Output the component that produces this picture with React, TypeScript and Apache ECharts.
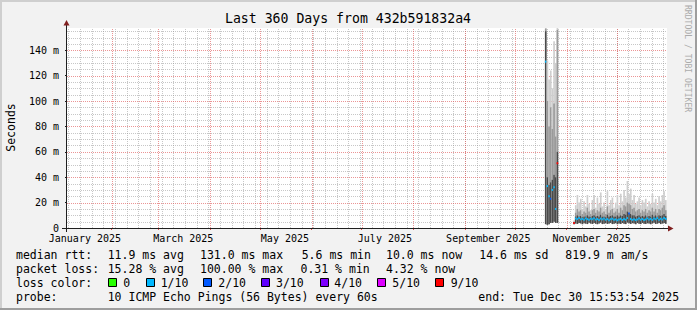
import React, { useEffect, useRef } from "react";
import * as echarts from "echarts";

const DAY = 86400000;
const X_MIN = Date.UTC(2025, 0, 5, 6);
const X_MAX = X_MIN + 360 * DAY;
const Y_MAX = 157.5;

const titleText = "Last 360 Days from 432b591832a4";
const yTickValues = [0, 20, 40, 60, 80, 100, 120, 140];
const monthStarts = [
  "2025-02-01", "2025-03-01", "2025-04-01", "2025-05-01", "2025-06-01", "2025-07-01",
  "2025-08-01", "2025-09-01", "2025-10-01", "2025-11-01", "2025-12-01",
];
const firstMonday = "2025-01-06";
const monthLabelDates = ["2025-01-16", "2025-03-16", "2025-05-16", "2025-07-15", "2025-09-15", "2025-11-16"];
const monthLabelTexts = ["January 2025", "March 2025", "May 2025", "July 2025", "September 2025", "November 2025"];

const smokeDates = [
  "2025-10-19", "2025-10-20", "2025-10-21", "2025-10-22", "2025-10-23", "2025-10-24", "2025-10-25", "2025-10-26",
  "2025-11-05", "2025-11-06", "2025-11-07", "2025-11-08", "2025-11-09", "2025-11-10", "2025-11-11", "2025-11-12",
  "2025-11-13", "2025-11-14", "2025-11-15", "2025-11-16", "2025-11-17", "2025-11-18", "2025-11-19", "2025-11-20",
  "2025-11-21", "2025-11-22", "2025-11-23", "2025-11-24", "2025-11-25", "2025-11-26", "2025-11-27", "2025-11-28",
  "2025-11-29", "2025-11-30", "2025-12-01", "2025-12-02", "2025-12-03", "2025-12-04", "2025-12-05", "2025-12-06",
  "2025-12-07", "2025-12-08", "2025-12-09", "2025-12-10", "2025-12-11", "2025-12-12", "2025-12-13", "2025-12-14",
  "2025-12-15", "2025-12-16", "2025-12-17", "2025-12-18", "2025-12-19", "2025-12-20", "2025-12-21", "2025-12-22",
  "2025-12-23", "2025-12-24", "2025-12-25", "2025-12-26", "2025-12-27", "2025-12-28", "2025-12-29", "2025-12-30",
];
// smoke bands (ms): min ping, upper edge of dark band, upper edge of mid band, max ping
const pingMin = [
  3, 2.5, 3, 4, 4, 5, 4, 4,
  3, 3.5, 3.2, 4, 3.6, 3, 3.8, 3.4, 3.1, 4.1, 3.5, 3.2, 3.9, 3.3, 3.0, 3.6, 4.2, 3.1, 3.4, 3.9,
  3.2, 3.5, 4.0, 3.1, 3.3, 3.8, 3.0, 3.6, 3.2, 3.9, 3.4, 3.1, 4.3, 3.7, 3.2, 3.8, 3.5, 3.0, 3.9, 3.3,
  3.1, 4.0, 3.4, 3.2, 3.7, 3.5, 3.0, 3.6, 4.1, 3.2, 3.4, 3.9, 3.1, 3.5, 4.0, 3.3,
];
const pingLow = [
  155, 40, 34, 36, 38, 42, 40, 60,
  4.5, 9, 10, 9, 9.5, 8.5, 9, 9, 10, 9, 8.5, 9.5, 10, 9, 9.5, 9, 10.5, 9, 9, 8.5,
  10.5, 9, 9.5, 10, 9, 9, 10, 9, 10, 9.5, 11, 10.5, 13, 12, 11, 10, 10, 9, 9.5, 10,
  9, 9.5, 9, 10, 9, 9.5, 9, 10.5, 9, 10, 9, 10, 9.5, 10, 11, 9.5,
];
const pingHigh = [
  157, 100, 80, 95, 78, 98, 72, 156,
  5, 12, 15, 13, 14, 11, 13, 12, 16, 13, 11, 14, 15, 12, 14, 13, 16, 12, 13, 11,
  17, 12, 14, 15, 12, 13, 15, 12, 16, 14, 18, 17, 20, 19, 18, 15, 16, 13, 14, 15,
  12, 14, 13, 15, 12, 14, 13, 16, 13, 15, 12, 15, 14, 16, 18, 14,
];
const pingMax = [
  160, 132, 117, 124, 110, 147, 130, 160,
  6, 18, 26, 20, 23, 15, 21, 17, 26, 19, 14, 22, 26, 16, 24, 19, 28, 17, 20, 15,
  29, 18, 22, 24, 16, 20, 26, 18, 27, 21, 30, 24, 37, 27, 31, 22, 26, 19, 21, 24,
  18, 22, 20, 23, 17, 21, 19, 27, 20, 23, 18, 25, 21, 26, 29, 22,
];
const medianRtt = [
  131, 33, 25, 23, 30, 32, 15, 51,
  4, 7.5, 7, 7.8, 6.8, 7.2, 6.5, 7.6, 7, 6.4, 7.3, 6.9, 7.7, 6.6, 7.1, 6.3, 7.4, 6.8, 7.5, 6.5,
  7, 6.2, 6.9, 7.3, 6.4, 6.8, 6.1, 6.6, 7.2, 6.3, 7, 6.5, 7.8, 11.5, 7.1, 6.4, 6.9, 6.2, 6.7, 7.4,
  6.5, 7.1, 6.3, 6.8, 7.6, 6.6, 7.2, 6.4, 7.5, 6.9, 7.8, 6.5, 7.3, 6.7, 7.9, 7.2,
];
const lossTenths = [
  1, 1, 1, 2, 1, 1, 1, 9,
  9, 1, 1, 1, 1, 1, 1, 1, 1, 1, 1, 1, 1, 1, 1, 1, 1, 1, 1, 1,
  1, 1, 1, 1, 1, 1, 1, 1, 1, 1, 1, 1, 1, 2, 1, 1, 1, 1, 1, 1,
  1, 1, 1, 1, 1, 1, 1, 1, 1, 1, 1, 1, 1, 1, 1, 1,
];

const lossLegendLabels = ["0", "1/10", "2/10", "3/10", "4/10", "5/10", "9/10"];
const lossLegendValues = [0, 1, 2, 3, 4, 5, 9];
const lossColors: Record<number, string> = {
  0: "#26ff00", 1: "#00b8ff", 2: "#0059ff", 3: "#5e00ff", 4: "#7e00ff", 5: "#dd00ff", 9: "#ff0000",
};

const rttLine = ["median rtt:", "11.9 ms avg", "131.0 ms max", "5.6 ms min", "10.0 ms now", "14.6 ms sd", "819.9 m am/s"];
const lossLine = ["packet loss:", "15.28 % avg", "100.00 % max", "0.31 % min", "4.32 % now"];
const probeLine = ["probe:", "10 ICMP Echo Pings (56 Bytes) every 60s", "end: Tue Dec 30 15:53:54 2025"];

const MONO = '"DejaVu Sans Mono", monospace';
const GRID_COL = "rgba(143,143,143,0.5)";
const MGRID_COL = "rgba(222,79,79,0.6)";
const SMOKE_LIGHT = "#cecece";
const SMOKE_MID = "#9a9a9a";
const SMOKE_DARK = "#4a4a4a";

export default function App() {
  const ref = useRef<HTMLDivElement>(null);
  useEffect(() => {
    document.body.style.margin = "0";
    if (!ref.current) return;
    const chart = echarts.init(ref.current, null, { renderer: "svg" });

    const smokeData = smokeDates.map((d, i) => [
      Date.parse(d), pingMin[i], pingLow[i], pingHigh[i], pingMax[i], medianRtt[i], lossTenths[i],
    ]);

    const gridRows: number[][] = [];
    for (let v = 5; v < Y_MAX; v += 5) if (v % 20 !== 0) gridRows.push([X_MIN, v, 2]);
    for (let t = Date.parse(firstMonday); t < X_MAX; t += 7 * DAY) gridRows.push([t, 0, 0]);
    yTickValues.forEach((v) => { if (v > 0) gridRows.push([X_MIN, v, 3]); });
    monthStarts.forEach((d) => gridRows.push([Date.parse(d), 0, 1]));

    const labelTimes = monthLabelDates.map((d) => Date.parse(d));

    const legendTexts: any[] = [];
    const rttX = [16, 107.7, 200, 301.7, 386, 479.3, 565.3];
    rttLine.forEach((s, i) => legendTexts.push({ t: s, x: rttX[i], y: 255 }));
    const lossX = [16, 107.7, 200, 300.5, 386];
    lossLine.forEach((s, i) => legendTexts.push({ t: s, x: lossX[i], y: 269 }));
    legendTexts.push({ t: "loss color:", x: 16, y: 283 });
    const probeX = [16, 107.7, 478.3];
    probeLine.forEach((s, i) => legendTexts.push({ t: s, x: probeX[i], y: 297 }));

    const boxX = [108.5, 146.5, 203.5, 261.5, 320.5, 377.5, 435.5];
    const boxTextX = [123.3, 160.7, 218.3, 276, 334.3, 392.3, 450.7];

    const graphics: any[] = [
      { type: "rect", shape: { x: 0, y: 0, width: 697, height: 2 }, style: { fill: "#cfcfcf" }, z: 100 },
      { type: "rect", shape: { x: 0, y: 0, width: 2, height: 310 }, style: { fill: "#cfcfcf" }, z: 100 },
      { type: "rect", shape: { x: 0, y: 308, width: 697, height: 2 }, style: { fill: "#9e9e9e" }, z: 100 },
      { type: "rect", shape: { x: 695, y: 0, width: 2, height: 310 }, style: { fill: "#9e9e9e" }, z: 100 },
      {
        type: "text", x: 348, y: 18.5,
        style: { text: titleText, font: `13.2px ${MONO}`, fill: "#000", align: "center", verticalAlign: "middle" }, z: 100,
      },
      {
        type: "text", x: 10.5, y: 127.5, rotation: Math.PI / 2,
        style: { text: "Seconds", font: `11.5px ${MONO}`, fill: "#000", align: "center", verticalAlign: "middle" }, z: 100,
      },
      {
        type: "text", x: 688, y: 5, rotation: -Math.PI / 2,
        style: { text: "RRDTOOL / TOBI OETIKER", font: `8.1px ${MONO}`, fill: "#ababab", align: "left", verticalAlign: "middle" }, z: 100,
      },
      { type: "line", shape: { x1: 62, y1: 228.5, x2: 669, y2: 228.5 }, style: { stroke: "#1f1f1f", lineWidth: 1 }, z: 100 },
      { type: "line", shape: { x1: 66.5, y1: 232, x2: 66.5, y2: 24 }, style: { stroke: "#1f1f1f", lineWidth: 1 }, z: 100 },
      { type: "polygon", shape: { points: [[668, 225.5], [673.5, 228.5], [668, 231.5]] }, style: { fill: "#801f1f" }, z: 101 },
      { type: "polygon", shape: { points: [[63.5, 25.5], [66.5, 20], [69.5, 25.5]] }, style: { fill: "#801f1f" }, z: 101 },
    ];
    legendTexts.forEach((l) =>
      graphics.push({
        type: "text", x: l.x, y: l.y,
        style: { text: l.t, font: `11.5px ${MONO}`, fill: "#000", align: "left", verticalAlign: "middle" }, z: 100,
      })
    );
    lossLegendValues.forEach((v, i) => {
      graphics.push({
        type: "rect", shape: { x: boxX[i], y: 278.5, width: 8, height: 8 },
        style: { fill: lossColors[v], stroke: "#000", lineWidth: 1 }, z: 100,
      });
      graphics.push({
        type: "text", x: boxTextX[i], y: 283,
        style: { text: lossLegendLabels[i], font: `11.5px ${MONO}`, fill: "#000", align: "left", verticalAlign: "middle" }, z: 100,
      });
    });

    chart.setOption({
      animation: false,
      backgroundColor: "#f2f2f2",
      grid: { left: 67, top: 28, width: 600, height: 200, show: true, backgroundColor: "#ffffff", borderWidth: 0, containLabel: false },
      xAxis: {
        type: "value", min: X_MIN, max: X_MAX,
        axisLine: { show: false },
        splitLine: { show: false },
        axisTick: {
          show: true, customValues: monthStarts.map((d) => Date.parse(d)), length: 2, inside: false,
          lineStyle: { color: "#de4f4f" },
        },
        axisLabel: {
          customValues: labelTimes,
          formatter: (v: number) => {
            const idx = labelTimes.indexOf(v);
            return idx >= 0 ? monthLabelTexts[idx] : "";
          },
          fontFamily: MONO, fontSize: 10, lineHeight: 10, color: "#000", margin: 5,
        },
      },
      yAxis: {
        type: "value", min: 0, max: Y_MAX, interval: 20,
        axisLine: { show: false },
        splitLine: { show: false },
        axisTick: { show: true, customValues: yTickValues, length: 2, lineStyle: { color: "#1f1f1f" } },
        axisLabel: {
          customValues: yTickValues,
          formatter: (v: number) => (v === 0 ? "0" : `${v} m`),
          fontFamily: MONO, fontSize: 10, lineHeight: 10, color: "#000", margin: 8,
        },
      },
      graphic: graphics,
      series: [
        {
          type: "custom",
          name: "grid",
          silent: true,
          z: 1,
          data: gridRows,
          renderItem: (_p: any, api: any) => {
            const kind = api.value(2);
            if (kind < 2) {
              const x = Math.round(api.coord([api.value(0), 0])[0]) + 0.5;
              const yb = api.coord([X_MIN, 0])[1];
              const yt = api.coord([X_MIN, Y_MAX])[1];
              return {
                type: "line", shape: { x1: x, y1: yb, x2: x, y2: yt },
                style: { stroke: kind === 1 ? MGRID_COL : GRID_COL, lineWidth: 1, lineDash: [1, 1] },
              };
            }
            const y = Math.round(api.coord([X_MIN, api.value(1)])[1]) + 0.5;
            const xl = api.coord([X_MIN, 0])[0];
            const xr = api.coord([X_MAX, 0])[0];
            return {
              type: "line", shape: { x1: xl, y1: y, x2: xr, y2: y },
              style: { stroke: kind === 3 ? MGRID_COL : GRID_COL, lineWidth: 1, lineDash: [1, 1] },
            };
          },
        },
        {
          type: "custom",
          name: "smoke",
          silent: true,
          clip: true,
          z: 2,
          data: smokeData,
          renderItem: (_p: any, api: any) => {
            const t = api.value(0);
            const x0 = api.coord([t, 0])[0];
            const x1 = api.coord([t + DAY, 0])[0];
            const yOf = (v: number) => api.coord([t, v])[1];
            const band = (a: number, b: number, fill: string) => ({
              type: "rect",
              shape: { x: x0, y: yOf(b), width: x1 - x0, height: yOf(a) - yOf(b) },
              style: { fill },
            });
            const med = api.value(5);
            const loss = api.value(6);
            return {
              type: "group",
              children: [
                band(api.value(1), api.value(4), SMOKE_LIGHT),
                band(api.value(2), api.value(3), SMOKE_MID),
                band(api.value(1), api.value(2), SMOKE_DARK),
                {
                  type: "rect",
                  shape: { x: x0, y: yOf(med) - 1, width: x1 - x0, height: 2 },
                  style: { fill: lossColors[loss] || "#00b8ff" },
                },
              ],
            };
          },
        },
      ],
    });
    return () => chart.dispose();
  }, []);
  return <div ref={ref} style={{ width: 697, height: 310 }} />;
}
